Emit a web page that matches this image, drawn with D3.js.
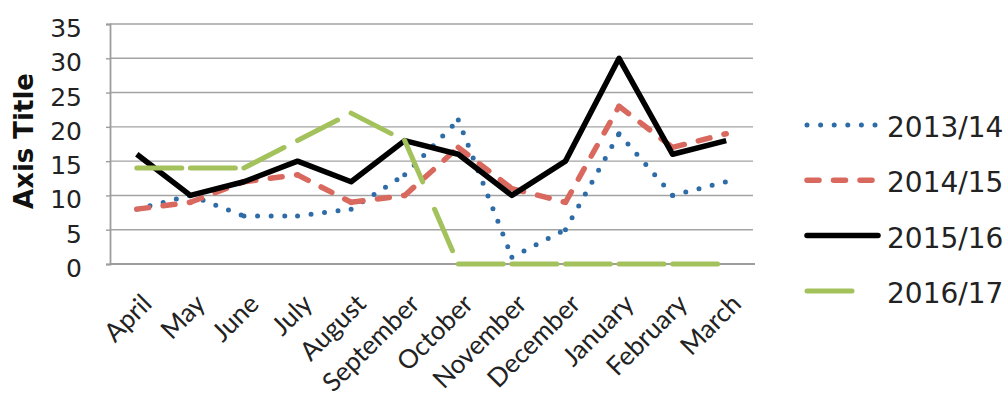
<!DOCTYPE html>
<html>
<head>
<meta charset="utf-8">
<script src="https://cdn.jsdelivr.net/npm/d3@7"></script>
<style>
    body { margin: 0; background: #fff; }
    #chart { display: block; }
</style>
</head>
<body>
<svg id="chart"></svg>
<script>
//----------------------------//
//            DATA            //
//----------------------------//
const months = ["April", "May", "June", "July", "August", "September",
    "October", "November", "December", "January", "February", "March"];
const yTicks = [0, 5, 10, 15, 20, 25, 30, 35];
const seriesNames = ["2013/14", "2014/15", "2015/16", "2016/17"];

const values1314 = [8, 10, 7, 7, 8, 13, 21, 1, 5, 19, 10, 12];
const values1415 = [8, 9, 12, 13, 9, 10, 17, 11, 9, 23, 17, 19];
const values1516 = [16, 10, 12, 15, 12, 18, 16, 10, 15, 30, 16, 18];
const values1617 = [14, 14, 14, 18, 22, 18, 0, 0, 0, 0, 0, 0];

// line looks, one per series (bottom series first)
const styles = [
    { color: "#2e6ca8", width: 5, dash: "0 13.6", segmented: true },
    { color: "#d9695e", width: 5.5, dash: "12 14.5", segmented: true },
    { color: "#000000", width: 5.5, dash: null, segmented: false },
    { color: "#a3c25c", width: 5, dash: "45 30", segmented: true }
];

// --- Plotting Module ---
function plotChart() {
    const W = 1008, H = 401;
    const plot = { left: 110, right: 753, top: 24, bottom: 264 };
    const allValues = [values1314, values1415, values1516, values1617];

    const svg = d3.select('#chart')
        .attr('width', W)
        .attr('height', H);

    const x = d3.scalePoint()
        .domain(months)
        .range([plot.left, plot.right])
        .padding(0.5);

    const y = d3.scaleLinear()
        .domain([0, 35])
        .range([plot.bottom, plot.top]);

    // gridlines
    svg.append('g')
        .selectAll('line')
        .data(yTicks.filter(t => t > 0))
        .enter()
        .append('line')
        .attr('x1', plot.left)
        .attr('x2', plot.right)
        .attr('y1', d => y(d))
        .attr('y2', d => y(d))
        .attr('stroke', '#a3a3a3')
        .attr('stroke-width', 1.4);

    // y axis
    const yAxis = svg.append('g')
        .attr('transform', `translate(${plot.left},0)`)
        .call(d3.axisLeft(y).tickValues(yTicks).tickSize(4).tickPadding(24));
    yAxis.select('.domain').attr('stroke', '#9d9d9d').attr('stroke-width', 1.8);
    yAxis.selectAll('.tick line').attr('stroke', '#9d9d9d').attr('stroke-width', 1.4);
    yAxis.selectAll('.tick text')
        .attr('dy', '0.5em')
        .style('font-family', 'DejaVu Sans')
        .style('font-size', '25px')
        .attr('fill', '#222');

    // x axis line
    svg.append('line')
        .attr('x1', plot.left)
        .attr('x2', plot.right + 2)
        .attr('y1', y(0))
        .attr('y2', y(0))
        .attr('stroke', '#9d9d9d')
        .attr('stroke-width', 2.2);

    // month labels
    svg.append('g')
        .selectAll('text')
        .data(months)
        .enter()
        .append('text')
        .attr('transform', d => `translate(${x(d) + 10},299) rotate(-45)`)
        .attr('text-anchor', 'end')
        .attr('dy', '0.35em')
        .style('font-family', 'Lato')
        .style('font-size', '26px')
        .attr('fill', '#222')
        .text(d => d);

    // axis title
    svg.append('text')
        .attr('transform', `translate(33,${(plot.top + plot.bottom) / 2 - 3}) rotate(-90)`)
        .attr('text-anchor', 'middle')
        .style('font-family', 'DejaVu Sans')
        .style('font-weight', 'bold')
        .style('font-size', '26px')
        .attr('fill', '#111')
        .text('Axis Title');

    // series (dashed ones restart their pattern at every point, like Excel)
    allValues.forEach((vals, si) => {
        const st = styles[si];
        const pts = vals.map((v, i) => [x(months[i]), y(v)]);
        if (st.segmented) {
            svg.append('g')
                .selectAll('line')
                .data(d3.pairs(pts))
                .enter()
                .append('line')
                .attr('x1', d => d[0][0])
                .attr('y1', d => d[0][1])
                .attr('x2', d => d[1][0])
                .attr('y2', d => d[1][1])
                .attr('stroke', st.color)
                .attr('stroke-width', st.width)
                .attr('stroke-linecap', 'round')
                .attr('stroke-dasharray', st.dash);
        } else {
            svg.append('path')
                .datum(pts)
                .attr('fill', 'none')
                .attr('stroke', st.color)
                .attr('stroke-width', st.width)
                .attr('stroke-linejoin', 'round')
                .attr('d', d3.line());
        }
    });

    // legend
    const legend = svg.append('g')
        .selectAll('g')
        .data(seriesNames)
        .enter()
        .append('g')
        .attr('transform', (d, i) => `translate(0,${125 + i * 55.3})`);

    legend.append('line')
        .attr('x1', 807)
        .attr('x2', 878)
        .attr('stroke', (d, i) => styles[i].color)
        .attr('stroke-width', (d, i) => styles[i].width)
        .attr('stroke-linecap', 'round')
        .attr('stroke-dasharray', (d, i) => styles[i].dash);

    legend.append('text')
        .attr('x', 887)
        .attr('y', 12)
        .style('font-family', 'DejaVu Sans')
        .style('font-size', '28px')
        .attr('fill', '#222')
        .text(d => d);
}

// --- Main Execution ---
document.addEventListener('DOMContentLoaded', () => {
    plotChart();
});
</script>
</body>
</html>
